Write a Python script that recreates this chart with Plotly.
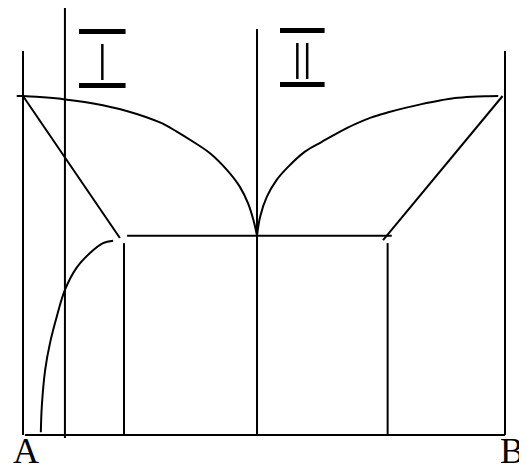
import plotly.graph_objects as go

# composition (A = 0, B = 100) against temperature
liq_left_x = [-1.3, 0.0, 4.2, 8.7, 14.6, 21.5, 28.4, 31.9, 35.3, 38.8, 42.3, 45.0, 46.7, 47.8, 48.3, 48.55]
liq_left_y = [100.0, 100.0, 99.6, 99.0, 97.8, 95.6, 92.2, 89.5, 86.5, 83.1, 78.2, 73.2, 68.3, 63.4, 60.5, 58.8]

liq_right_x = [48.55, 49.2, 50.6, 52.6, 55.0, 58.5, 62.0, 65.4, 68.9, 72.3, 75.8, 79.3, 82.7, 86.2, 89.6, 93.1, 96.5, 98.6]
liq_right_y = [58.8, 64.4, 70.3, 75.2, 79.1, 83.6, 86.5, 89.2, 91.7, 93.7, 95.2, 96.5, 97.6, 98.6, 99.4, 99.8, 99.95, 100.0]

solvus_x = [3.7, 3.9, 4.6, 5.6, 7.0, 8.7, 11.1, 13.9, 16.6, 18.7]
solvus_y = [0.8, 8.4, 19.2, 27.1, 34.9, 42.8, 49.3, 53.7, 56.6, 57.3]

slant_left_x = [0.0, 20.1]
slant_left_y = [100.0, 58.1]
slant_right_x = [99.5, 74.7]
slant_right_y = [100.0, 57.5]

eutectic_x = [21.6, 76.5]
eutectic_y = [58.8, 58.8]

base_x = [0.4, 100.0]
base_y = [0.0, 0.0]

# vertical lines: (x, y_bottom, y_top)
verticals = [
    (0.0, 0.0, 113.3),     # A
    (100.0, 0.0, 113.3),   # B
    (8.7, -0.9, 126.8),    # line I
    (48.55, 0.0, 119.8),   # line II through the eutectic
    (20.95, 0.0, 56.6),    # compound 1
    (75.65, 0.0, 56.6),    # compound 2
]

LINE = dict(color="black", width=2)

fig = go.Figure()
for xs, ys in [(liq_left_x, liq_left_y), (liq_right_x, liq_right_y), (solvus_x, solvus_y)]:
    fig.add_trace(go.Scatter(x=xs, y=ys, mode="lines", line=dict(**LINE, shape="spline", smoothing=1.0)))
for xs, ys in [(slant_left_x, slant_left_y), (slant_right_x, slant_right_y), (eutectic_x, eutectic_y), (base_x, base_y)]:
    fig.add_trace(go.Scatter(x=xs, y=ys, mode="lines", line=LINE))
for vx, y0, y1 in verticals:
    fig.add_trace(go.Scatter(x=[vx, vx], y=[y0, y1], mode="lines", line=LINE))

serif = dict(family="Liberation Serif", size=36, color="black")
roman = dict(family="DejaVu Sans", size=50, color="black", weight=200)
barred = ('<span style="text-decoration:underline overline;'
          'text-decoration-thickness:2px">{pad}{t}{pad}</span>')
annotations = [
    dict(x=0.62, y=-4.7, text="A", font=serif),
    dict(x=101.45, y=-4.7, text="B", font=serif),
    dict(x=16.4, y=109.6, text=barred.format(pad="\u00a0", t="Ⅰ"), font=roman),
    dict(x=58.0, y=110.0, text=barred.format(pad="\u2009", t="Ⅱ"), font=roman),
]
for a in annotations:
    a.update(showarrow=False, xref="x", yref="y", xanchor="center", yanchor="middle")

# the page adds an 8px body margin, so the figure is 8px smaller than the window
fig.update_layout(
    width=519,
    height=467,
    margin=dict(l=0, r=0, t=0, b=0),
    plot_bgcolor="white",
    paper_bgcolor="white",
    showlegend=False,
    annotations=annotations,
    xaxis=dict(range=[-3.112, 104.564], visible=False, fixedrange=True),
    yaxis=dict(range=[-11.80, 125.96], visible=False, fixedrange=True),
)

fig.write_html("out.html")
